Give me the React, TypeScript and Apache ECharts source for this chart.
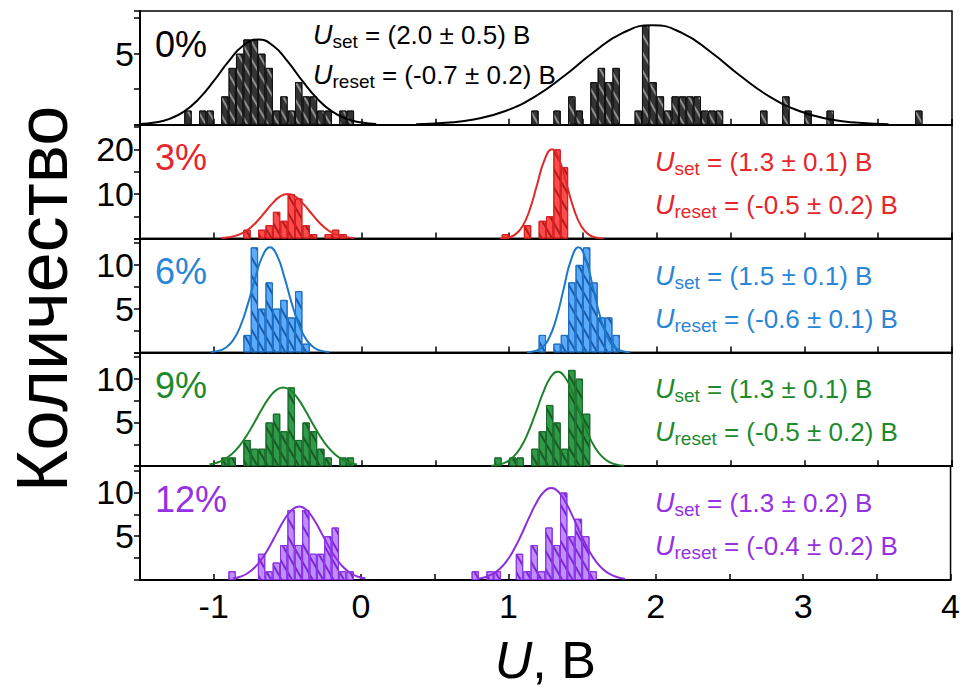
import React, { useEffect, useRef } from 'react';
import * as echarts from 'echarts';

const FONT = '"Liberation Sans", Arial, sans-serif';
const BIN = 0.05;
const X_MIN = -1.5;
const X_MAX = 4;

// tick / label values
const xTickStep = 0.5;
const xLabelValues = [-1, 0, 1, 2, 3, 4];
const yMax = [8, 25.5, 13, 13, 13];
const yTickStep = [2.5, 5, 2.5, 2.5, 2.5];
const yLabelValues = [[5], [10, 20], [5, 10], [5, 10], [5, 10]];

// panel texts
const panelLabels = ['0%', '3%', '6%', '9%', '12%'];
const setTexts = ['(2.0 ± 0.5) В', '(1.3 ± 0.1) В', '(1.5 ± 0.1) В', '(1.3 ± 0.1) В', '(1.3 ± 0.2) В'];
const resetTexts = ['(-0.7 ± 0.2) В', '(-0.5 ± 0.2) В', '(-0.6 ± 0.1) В', '(-0.5 ± 0.2) В', '(-0.4 ± 0.2) В'];

// histograms: left bin edges (bin 0.05 В) and counts
const edges0 = [-1.2, -1.1, -1.05, -0.95, -0.9, -0.85, -0.8, -0.75, -0.7, -0.65, -0.6, -0.55, -0.5, -0.45, -0.4, -0.35, -0.3, -0.25, -0.15, -0.1,
  1.15, 1.3, 1.4, 1.45, 1.55, 1.6, 1.65, 1.7, 1.85, 1.9, 1.95, 2.0, 2.05, 2.1, 2.15, 2.2, 2.25, 2.3, 2.35, 2.4, 2.7, 2.85, 3.0, 3.15, 3.75];
const counts0 = [1, 1, 1, 2, 4, 5, 6, 6, 5, 4, 1, 2, 1, 3, 2, 2, 1, 1, 1, 1,
  1, 1, 2, 1, 3, 4, 3, 4, 1, 7, 3, 2, 1, 2, 2, 2, 2, 1, 1, 1, 1, 2, 1, 1, 1];

const edges3 = [-0.8, -0.7, -0.65, -0.6, -0.55, -0.5, -0.45, -0.4, -0.35, -0.25, -0.2, -0.15,
  0.95, 1.1, 1.2, 1.25, 1.3, 1.35];
const counts3 = [2, 2, 3, 6, 4, 10, 9, 3, 1, 1, 2, 1,
  1, 3, 4, 5, 20, 16];

const edges6 = [-0.8, -0.75, -0.7, -0.65, -0.6, -0.55, -0.5, -0.45, -0.4,
  1.2, 1.3, 1.35, 1.4, 1.45, 1.5, 1.55, 1.6, 1.65, 1.7];
const counts6 = [2, 12, 5, 8, 5, 6, 4, 7, 1,
  2, 1, 2, 8, 10, 12, 8, 4, 4, 2];

const edges9 = [-0.95, -0.9, -0.8, -0.75, -0.7, -0.65, -0.6, -0.55, -0.5, -0.45, -0.4, -0.35, -0.3, -0.25, -0.15, -0.1,
  0.9, 1.0, 1.05, 1.15, 1.2, 1.25, 1.3, 1.35, 1.4, 1.45, 1.5];
const counts9 = [1, 1, 3, 2, 2, 5, 6, 4, 9, 3, 5, 4, 2, 1, 1, 1,
  1, 1, 1, 2, 4, 7, 5, 2, 11, 10, 6];

const edges12 = [-0.9, -0.7, -0.65, -0.6, -0.55, -0.5, -0.45, -0.4, -0.35, -0.3, -0.25, -0.2, -0.15, -0.1,
  0.75, 0.85, 0.9, 1.05, 1.1, 1.15, 1.2, 1.25, 1.3, 1.35, 1.4, 1.45, 1.5, 1.55];
const counts12 = [1, 3, 1, 2, 4, 8, 4, 8, 3, 3, 5, 6, 1, 1,
  1, 1, 1, 3, 1, 4, 1, 6, 4, 10, 5, 7, 5, 1];

// fitted curves: [U, count]
const fitReset0 = [[-1.5, 0.05], [-1.4, 0.16], [-1.3, 0.42], [-1.2, 0.94], [-1.1, 1.84], [-1.0, 3.08], [-0.9, 4.46], [-0.8, 5.57], [-0.7, 6], [-0.6, 5.57], [-0.5, 4.46], [-0.4, 3.08], [-0.3, 1.84], [-0.2, 0.94], [-0.1, 0.42], [0, 0.16], [0.1, 0.05]];
const fitSet0 = [[0.37, 0.04], [0.57, 0.14], [0.77, 0.39], [0.97, 0.95], [1.17, 1.95], [1.37, 3.41], [1.57, 5.08], [1.77, 6.46], [1.97, 7], [2.17, 6.46], [2.37, 5.08], [2.57, 3.41], [2.77, 1.95], [2.97, 0.95], [3.17, 0.39], [3.37, 0.14], [3.57, 0.04]];
const fitReset3 = [[-0.95, 0.11], [-0.9, 0.28], [-0.85, 0.66], [-0.8, 1.35], [-0.75, 2.49], [-0.7, 4.11], [-0.65, 6.07], [-0.6, 8.01], [-0.55, 9.46], [-0.5, 10], [-0.45, 9.46], [-0.4, 8.01], [-0.35, 6.07], [-0.3, 4.11], [-0.25, 2.49], [-0.2, 1.35], [-0.15, 0.66], [-0.1, 0.28], [-0.05, 0.11]];
const fitSet3 = [[0.94, 0.04], [0.99, 0.22], [1.04, 0.88], [1.09, 2.71], [1.14, 6.49], [1.19, 12.13], [1.24, 17.65], [1.29, 20], [1.34, 17.65], [1.39, 12.13], [1.44, 6.49], [1.49, 2.71], [1.54, 0.88], [1.59, 0.22], [1.64, 0.04]];
const fitReset6 = [[-1.02, 0.05], [-0.97, 0.17], [-0.92, 0.53], [-0.87, 1.37], [-0.82, 2.99], [-0.77, 5.49], [-0.72, 8.48], [-0.67, 11.0], [-0.62, 12], [-0.57, 11.0], [-0.52, 8.48], [-0.47, 5.49], [-0.42, 2.99], [-0.37, 1.37], [-0.32, 0.53], [-0.27, 0.17], [-0.22, 0.05]];
const fitSet6 = [[1.12, 0.03], [1.17, 0.13], [1.22, 0.53], [1.27, 1.62], [1.32, 3.9], [1.37, 7.28], [1.42, 10.59], [1.47, 12], [1.52, 10.59], [1.57, 7.28], [1.62, 3.9], [1.67, 1.62], [1.72, 0.53], [1.77, 0.13], [1.82, 0.03]];
const fitReset9 = [[-1.03, 0.19], [-0.98, 0.4], [-0.93, 0.76], [-0.88, 1.36], [-0.83, 2.24], [-0.78, 3.43], [-0.73, 4.85], [-0.68, 6.36], [-0.63, 7.71], [-0.58, 8.66], [-0.53, 9], [-0.48, 8.66], [-0.43, 7.71], [-0.38, 6.36], [-0.33, 4.85], [-0.28, 3.43], [-0.23, 2.24], [-0.18, 1.36], [-0.13, 0.76], [-0.08, 0.4], [-0.03, 0.19]];
const fitSet9 = [[0.88, 0.06], [0.93, 0.18], [0.98, 0.47], [1.03, 1.09], [1.08, 2.19], [1.13, 3.89], [1.18, 6.08], [1.23, 8.37], [1.28, 10.13], [1.33, 10.8], [1.38, 10.13], [1.43, 8.37], [1.48, 6.08], [1.53, 3.89], [1.58, 2.19], [1.63, 1.09], [1.68, 0.47], [1.73, 0.18], [1.78, 0.06]];
const fitReset12 = [[-0.87, 0.16], [-0.82, 0.37], [-0.77, 0.77], [-0.72, 1.45], [-0.67, 2.48], [-0.62, 3.85], [-0.57, 5.41], [-0.52, 6.91], [-0.47, 8.0], [-0.42, 8.4], [-0.37, 8.0], [-0.32, 6.91], [-0.27, 5.41], [-0.22, 3.85], [-0.17, 2.48], [-0.12, 1.45], [-0.07, 0.77], [-0.02, 0.37], [0.03, 0.16]];
const fitSet12 = [[0.79, 0.14], [0.84, 0.32], [0.89, 0.66], [0.94, 1.26], [0.99, 2.21], [1.04, 3.56], [1.09, 5.26], [1.14, 7.12], [1.19, 8.83], [1.24, 10.06], [1.29, 10.5], [1.34, 10.06], [1.39, 8.83], [1.44, 7.12], [1.49, 5.26], [1.54, 3.56], [1.59, 2.21], [1.64, 1.26], [1.69, 0.66], [1.74, 0.32], [1.79, 0.14]];

const allEdges = [edges0, edges3, edges6, edges9, edges12];
const allCounts = [counts0, counts3, counts6, counts9, counts12];
const allReset = [fitReset0, fitReset3, fitReset6, fitReset9, fitReset12];
const allSet = [fitSet0, fitSet3, fitSet6, fitSet9, fitSet12];

// styles
const textColors = ['#000000', '#e5262b', '#2a86d6', '#1f8a2c', '#9631e2'];
const lineColors = ['#000000', '#e02a2a', '#1e78c8', '#1e822b', '#8c2ee0'];
const fillColors = ['#333333', '#ff4b4b', '#5aabff', '#2f9a47', '#bf8dff'];
const hatchColors = ['#8e8e8e', '#b51a1a', '#1b5ca6', '#165a26', '#7a28d2'];
const borderColors = ['#111111', '#d21f1f', '#1f6fc0', '#1b6a2b', '#8b33e6'];

const W = 963;
const H = 697;
const G_LEFT = 140;
const G_RIGHT = 11;
const G_TOP = 11;
const PANEL_H = 113.8;

const near = (a: number, b: number) => Math.abs(a - b) < 1e-6;

export default function App() {
  const ref = useRef<HTMLDivElement>(null);
  useEffect(() => {
    document.body.style.margin = '0';
    if (!ref.current) return;
    const chart = echarts.init(ref.current, undefined, { renderer: 'svg' });
    const binPx = (BIN * (W - G_LEFT - G_RIGHT)) / (X_MAX - X_MIN);
    const grids: any[] = [];
    const xAxes: any[] = [];
    const yAxes: any[] = [];
    const series: any[] = [];
    const graphics: any[] = [];
    for (let i = 0; i < 5; i++) {
      const top = G_TOP + i * PANEL_H;
      grids.push({ left: G_LEFT, right: G_RIGHT, top, height: PANEL_H, show: true, borderColor: '#000', borderWidth: 1.5, backgroundColor: 'transparent' });
      xAxes.push({
        type: 'value', gridIndex: i, min: X_MIN, max: X_MAX, interval: xTickStep,
        axisLine: { show: true, onZero: false, lineStyle: { color: '#000', width: 2 } },
        axisTick: { show: true, inside: true, length: 6, lineStyle: { color: '#000', width: 1.5 } },
        splitLine: { show: false },
        axisLabel: {
          show: i === 4, fontSize: 34, fontFamily: FONT, color: '#000', margin: 9,
          showMinLabel: true, showMaxLabel: true,
          formatter: (v: number) => (xLabelValues.some((l) => near(l, v)) ? String(Math.round(v)) : ''),
        },
        name: i === 4 ? '{i|U}{n|, В}' : '',
        nameLocation: 'middle', nameGap: 54,
        nameTextStyle: { rich: { i: { fontStyle: 'italic', fontSize: 52, fontFamily: FONT, color: '#000' }, n: { fontSize: 52, fontFamily: FONT, color: '#000' } } },
      });
      yAxes.push({
        type: 'value', gridIndex: i, min: 0, max: yMax[i], interval: yTickStep[i],
        axisLine: { show: true, onZero: false, lineStyle: { color: '#000', width: 2 } },
        axisTick: { show: true, inside: false, length: 6, lineStyle: { color: '#000', width: 1.5 } },
        splitLine: { show: false },
        axisLabel: {
          show: true, fontSize: 34, fontFamily: FONT, color: '#000', margin: 6,
          formatter: (v: number) => (yLabelValues[i].some((l) => near(l, v)) ? String(Math.round(v)) : ''),
        },
      });
      series.push({
        type: 'bar', xAxisIndex: i, yAxisIndex: i, barWidth: binPx, silent: true, z: 2,
        data: allEdges[i].map((e, j) => [e + BIN / 2, allCounts[i][j]]),
        itemStyle: {
          color: fillColors[i], borderColor: borderColors[i], borderWidth: 1,
          decal: { symbol: 'rect', symbolSize: 1, color: hatchColors[i], dashArrayX: [1, 0], dashArrayY: [1.2, 7], rotation: Math.PI / 3 },
        },
      });
      for (const fit of [allReset[i], allSet[i]]) {
        series.push({
          type: 'line', xAxisIndex: i, yAxisIndex: i, data: fit, smooth: true, showSymbol: false, silent: true, z: 3,
          lineStyle: { color: lineColors[i], width: 2 },
        });
      }
      const c = textColors[i];
      graphics.push({
        type: 'text', x: 155, y: top + 33,
        style: { text: panelLabels[i], fontSize: 36, fontFamily: FONT, fill: c, verticalAlign: 'middle', align: 'left' },
      });
      const ax = i === 0 ? 313 : 655;
      const ay1 = i === 0 ? top + 24 : top + 37;
      const ay2 = i === 0 ? top + 64 : top + 80;
      const rich = {
        u: { fontStyle: 'italic', fontSize: 27, fontFamily: FONT, fill: c, lineHeight: 32 },
        s: { fontSize: 19, fontFamily: FONT, fill: c, verticalAlign: 'bottom', lineHeight: 19 },
        t: { fontSize: 26, fontFamily: FONT, fill: c, lineHeight: 32 },
      };
      graphics.push({ type: 'text', x: ax, y: ay1, style: { text: '{u|U}{s|set}{t| = ' + setTexts[i] + '}', rich, verticalAlign: 'middle', align: 'left', fill: c } });
      graphics.push({ type: 'text', x: ax, y: ay2, style: { text: '{u|U}{s|reset}{t| = ' + resetTexts[i] + '}', rich, verticalAlign: 'middle', align: 'left', fill: c } });
    }
    graphics.push({
      type: 'text', x: 42, y: 299, rotation: Math.PI / 2,
      style: { text: 'Количество', fontSize: 72, fontFamily: FONT, fill: '#000', align: 'center', verticalAlign: 'middle' },
    });
    chart.setOption({
      animation: false,
      backgroundColor: '#fff',
      grid: grids,
      xAxis: xAxes,
      yAxis: yAxes,
      series,
      graphic: graphics,
    });
    return () => chart.dispose();
  }, []);
  return <div ref={ref} style={{ width: W, height: H }} />;
}
